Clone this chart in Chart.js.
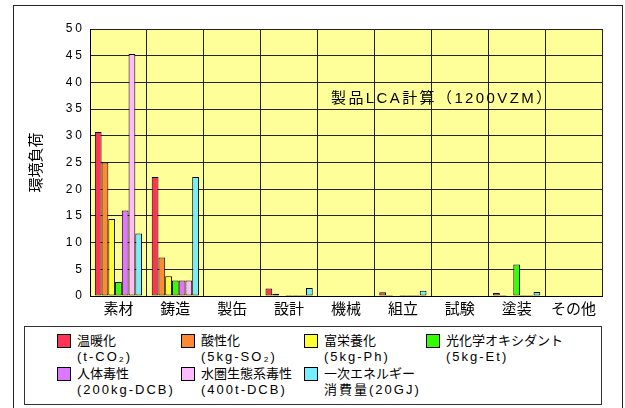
<!DOCTYPE html>
<html>
<head>
<meta charset="utf-8">
<script src="https://cdn.jsdelivr.net/npm/chart.js@4.4.1/dist/chart.umd.min.js"></script>
<style>
  body { margin: 0; background: #fff; }
  #wrap { position: relative; width: 625px; height: 408px; overflow: hidden;
    font-family: "Liberation Sans", "Noto Sans CJK JP", sans-serif; color: #000; }
  #frame { position: absolute; left: 13px; top: 5px; width: 608px; height: 410px; border: 1px solid #222; }
  canvas { position: absolute; left: 0; top: 0; }
  #title { position: absolute; left: 331px; top: 86px; font-size: 15px; letter-spacing: 2.4px; white-space: nowrap; }
  #legend { position: absolute; left: 24px; top: 326px; width: 576px; height: 77px; border: 1px solid #333; background: #fff; }
  .item { position: absolute; font-size: 13px; line-height: 16px; white-space: nowrap; }
  .sw { position: absolute; left: -20px; top: 1px; width: 12px; height: 12px; border: 1px solid #000; }
  .sub { letter-spacing: 2px; }
</style>
</head>
<body>
<div id="wrap">
  <div id="frame"></div>
  <canvas id="chart" width="625" height="408"></canvas>
  <div id="title">製品LCA計算（1200VZM）</div>
  <div id="legend"></div>
</div>
<script>
const categories = ["素材", "鋳造", "製缶", "設計", "機械", "組立", "試験", "塗装", "その他"];

// 環境負荷 per impact category
const warming = [30.7, 22.3, 0, 1.4, 0, 0.7, 0, 0.55, 0];
const acidification = [25.0, 7.2, 0, 0.4, 0, 0.2, 0, 0.2, 0];
const eutrophication = [14.4, 3.7, 0, 0.1, 0, 0.1, 0, 0.1, 0];
const photochemical = [2.6, 2.9, 0, 0.2, 0, 0.2, 0, 5.9, 0];
const humanToxicity = [16.0, 2.9, 0, 0.2, 0, 0.2, 0, 0.2, 0];
const aquaticToxicity = [45.3, 2.9, 0, 0.2, 0, 0.2, 0, 0.2, 0];
const primaryEnergy = [11.7, 22.3, 0, 1.5, 0, 1.0, 0, 0.75, 0];

const seriesNames = ["温暖化", "酸性化", "富栄養化", "光化学オキシダント", "人体毒性", "水圏生態系毒性", "一次エネルギー"];
const seriesUnits = ["(t-CO₂)", "(5kg-SO₂)", "(5kg-Ph)", "(5kg-Et)", "(200kg-DCB)", "(400t-DCB)", "消費量(20GJ)"];
const seriesValues = [warming, acidification, eutrophication, photochemical, humanToxicity, aquaticToxicity, primaryEnergy];
const seriesColors = ["#FF3355", "#FF8833", "#FFFF33", "#33FF00", "#DD77FF", "#FFBBFF", "#77EEFF"];

const yTicks = [0, 5, 10, 15, 20, 25, 30, 35, 40, 45, 50];

const FONT = "'Liberation Sans', 'Noto Sans CJK JP', sans-serif";

// yellow plot background
const plotBackground = {
  id: "plotBackground",
  beforeDraw(chart) {
    const { ctx, chartArea } = chart;
    ctx.save();
    ctx.fillStyle = "#FFFF99";
    ctx.fillRect(chartArea.left, chartArea.top, chartArea.right - chartArea.left, chartArea.bottom - chartArea.top);
    ctx.restore();

    // spaced digits on the value axis
    const y = chart.scales.y;
    if (y && !y._spaced) {
      const orig = y.drawLabels.bind(y);
      y.drawLabels = function (area) {
        chart.ctx.letterSpacing = "3px";
        orig(area);
        chart.ctx.letterSpacing = "0px";
      };
      y._spaced = true;
    }
  },
};

const ctx = document.getElementById("chart");
new Chart(ctx, {
  type: "bar",
  data: {
    labels: categories,
    datasets: seriesValues.map((vals, i) => ({
      label: seriesNames[i],
      data: vals,
      backgroundColor: seriesColors[i],
      borderColor: "#000",
      borderWidth: 1,
      borderSkipped: false,
      categoryPercentage: 0.83,
      barPercentage: 1.0,
    })),
  },
  options: {
    responsive: false,
    animation: false,
    devicePixelRatio: 1,
    layout: { padding: { left: 0, top: 29, right: 23, bottom: 82 } },
    plugins: {
      legend: { display: false },
      tooltip: { enabled: false },
    },
    scales: {
      x: {
        grid: { color: "#222", lineWidth: 1, drawTicks: false, offset: true },
        border: { color: "#000", width: 1 },
        ticks: { color: "#000", font: { family: FONT, size: 15 }, padding: 5, maxRotation: 0, autoSkip: false },
        afterFit(scale) { scale.height = 30; },
      },
      y: {
        min: 0,
        max: 50,
        afterBuildTicks(scale) { scale.ticks = yTicks.map((v) => ({ value: v })); },
        grid: { color: "#222", lineWidth: 1, drawTicks: false },
        border: { color: "#000", width: 1 },
        ticks: { color: "#000", font: { family: FONT, size: 12 }, padding: 5 },
        title: {
          display: true,
          text: "環境負荷",
          color: "#000",
          font: { family: FONT, size: 15 },
          padding: { top: 28, bottom: 0 },
        },
        afterFit(scale) { scale.width = 90; },
      },
    },
  },
  plugins: [plotBackground],
});

// legend box, two lines per entry
const legend = document.getElementById("legend");
const colX = [57, 181, 304, 426];
const rowY = [332, 365];
seriesNames.forEach((name, i) => {
  const item = document.createElement("div");
  item.className = "item";
  item.style.left = (colX[i % 4] - 24 + 19) + "px";
  item.style.top = (rowY[Math.floor(i / 4)] - 326) + "px";
  const sw = document.createElement("span");
  sw.className = "sw";
  sw.style.background = seriesColors[i];
  const l1 = document.createElement("div");
  l1.textContent = name;
  const l2 = document.createElement("div");
  l2.className = "sub";
  l2.textContent = seriesUnits[i];
  item.append(sw, l1, l2);
  legend.append(item);
});
</script>
</body>
</html>
